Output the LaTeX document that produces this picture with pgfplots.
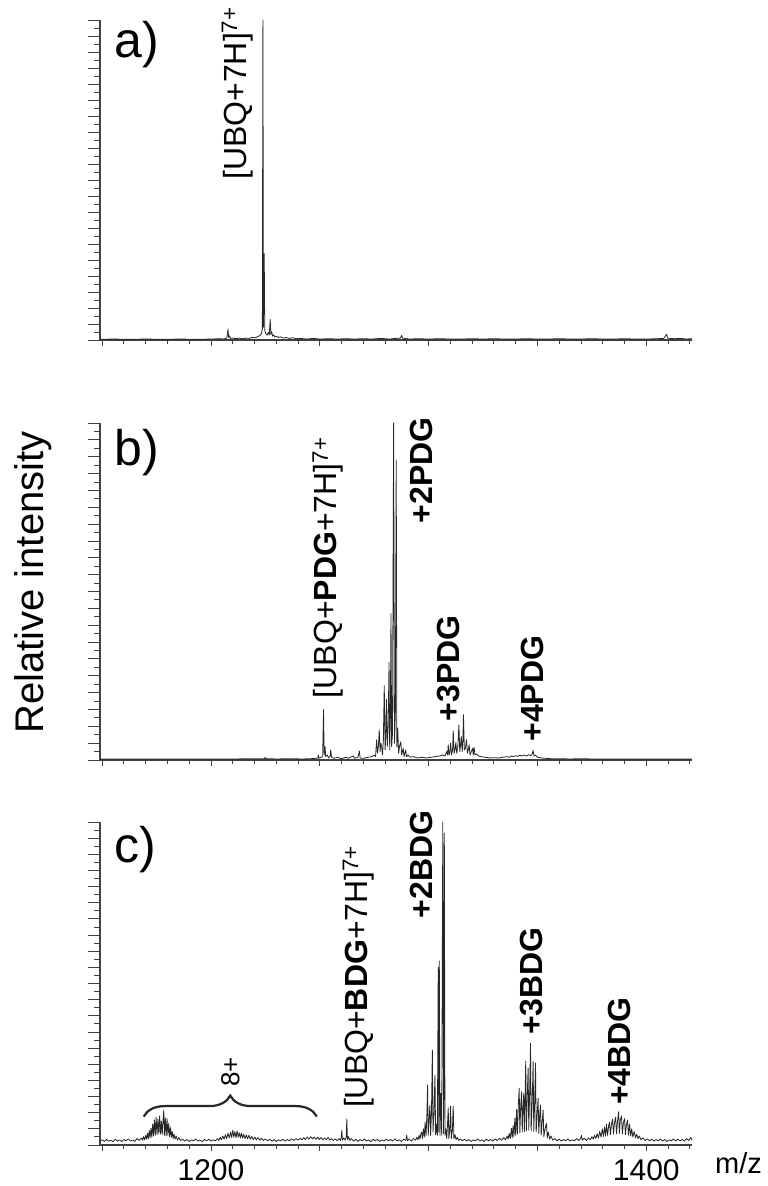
\documentclass[border=0pt]{standalone}
\usepackage{fontspec}
\setmainfont{Liberation Sans}
\usepackage{pgfplots}
\pgfplotsset{compat=1.18}
\usetikzlibrary{decorations.pathreplacing}

\definecolor{axgray}{gray}{0.25}
\pgfplotsset{
  panel/.style={scale only axis, width=592pt, xmin=1149, xmax=1421, ymin=0, ymax=100, clip=false},
  xpanel/.style={panel, axis x line*=bottom, hide y axis,
    xtick={1150,1200,...,1400}, minor xtick={1160,1170,...,1420},
    major tick length=6pt, minor tick length=3.5pt, tick align=outside,
    xticklabels={}, axis line style={line width=1.3pt, axgray},
    every tick/.style={line width=0.9pt, axgray},
    xticklabel style={font=\fontsize{30}{30}\selectfont, inner sep=0pt, yshift=-8pt}},
  ypanel/.style={panel, axis y line*=left, hide x axis,
    ytick={0,5,...,100}, minor ytick={2.5,7.5,...,97.5}, yticklabels={},
    major tick length=12pt, minor tick length=6.5pt, tick align=outside,
    axis line style={line width=1.3pt, axgray},
    every tick/.style={line width=0.9pt, axgray}},
  spec/.style={black!85, line width=0.8pt, no marks, line join=round},
}
\tikzset{
  lab/.style={rotate=90, anchor=base west, inner sep=0pt, font=\fontsize{32}{32}\selectfont},
  plab/.style={anchor=base west, inner sep=0pt, font=\fontsize{50}{50}\selectfont},
}

\begin{document}
\begin{tikzpicture}
\path[use as bounding box] (0,0) rectangle (768pt,-1186pt);

% ---------------- panel a ----------------
\begin{axis}[ypanel, height=320pt, at={(100pt,-340pt)}, anchor=south west]
\end{axis}
\begin{axis}[xpanel, height=320pt, at={(100pt,-340pt)}, anchor=south west]
\addplot[spec] coordinates {
(1149,0.2) (1155,0.3) (1162,0.2) (1170,0.3) (1178,0.2) (1186,0.3) (1194,0.2) (1200,0.3) (1204,0.4) (1206,0.3)
(1207.3,0.6) (1207.8,3.4) (1208.1,0.8) (1208.5,1.3) (1208.9,0.5) (1210,0.6) (1211.5,0.4) (1213,0.6) (1214.5,0.4)
(1216,0.6) (1217.5,0.5) (1219,0.8) (1220.5,0.7) (1221.5,1.1) (1222.5,1.4) (1223.2,2) (1223.6,3.5) (1223.85,100)
(1224.1,4) (1224.45,27) (1224.7,3) (1225.2,2) (1225.8,1.5) (1226.4,2.4) (1226.8,1.6) (1227.2,6.5) (1227.5,1.8)
(1227.9,2.6) (1228.3,1.2) (1228.8,1.6) (1229.4,0.9) (1230,1.2) (1231,0.8) (1232,1) (1233,0.6) (1234.5,0.8)
(1236,0.5) (1237.5,0.7) (1239,0.4) (1241,0.5) (1244,0.3) (1247,0.5) (1250,0.3) (1254,0.4) (1258,0.3) (1262,0.4)
(1266,0.3) (1270,0.4) (1274,0.3) (1278,0.5) (1282,0.3) (1285,0.5) (1287,0.6) (1287.6,1.4) (1288,0.6) (1289,0.5)
(1291,0.3) (1295,0.4) (1300,0.3) (1305,0.4) (1310,0.3) (1315,0.3) (1320,0.4) (1325,0.3) (1330,0.4) (1335,0.3)
(1340,0.3) (1345,0.4) (1350,0.3) (1355,0.3) (1360,0.4) (1365,0.3) (1370,0.3) (1375,0.4) (1380,0.3) (1385,0.3)
(1390,0.4) (1395,0.3) (1400,0.3) (1405,0.4) (1408,0.5) (1409.3,1.8) (1409.8,0.6) (1411,0.5) (1413,0.4) (1416,0.5)
(1418,0.3) (1421,0.4)
};
\node[plab] at (rel axis cs:0.024,0.883) {a)};
\node[lab] at (axis cs:1216.2,50) {[UBQ+7H]\textsuperscript{7+}};
\end{axis}

% ---------------- panel b ----------------
\begin{axis}[ypanel, height=337pt, at={(100pt,-760pt)}, anchor=south west]
\end{axis}
\begin{axis}[xpanel, height=337pt, at={(100pt,-760pt)}, anchor=south west]
\addplot[spec] coordinates {
(1149,0.3) (1160,0.3) (1170,0.3) (1180,0.3) (1190,0.3) (1200,0.3) (1210,0.3) (1220,0.4) (1224.5,0.4) (1224.9,0.8)
(1225.3,0.4) (1230,0.3) (1236,0.4) (1242,0.3) (1246,0.4) (1248,0.5) (1249.1,0.6) (1249.3,1.5) (1249.6,0.5) (1250.5,0.8)
(1251.3,1) (1251.7,15) (1252.0,1.5) (1252.4,4) (1252.7,1) (1253.5,1.5) (1254,0.6) (1254.8,1.2) (1255,3) (1255.4,0.8)
(1256.5,0.5) (1258,0.8) (1260,0.4) (1262,0.8) (1263,0.5) (1265.3,1.2) (1266,0.5) (1267.5,0.8) (1268.2,2.7) (1268.5,0.6)
(1270,0.5) (1272,0.8) (1274,1) (1275,1.5) (1275.6,1) (1276.1,6) (1276.5,2) (1276.9,4) (1277.3,9) (1277.7,2.5)
(1278.0,5) (1278.4,4) (1278.8,1.5) (1279.2,6) (1279.6,22) (1280,3) (1280.3,7) (1280.6,18) (1281,4) (1281.4,10)
(1281.8,29) (1282.1,3) (1282.4,12) (1282.7,43.5) (1283,4) (1283.4,8) (1283.9,100) (1284.3,5) (1284.7,14) (1285.1,89)
(1285.4,4) (1285.8,9.5) (1286.2,2) (1286.6,4) (1287.2,5.4) (1287.6,1.5) (1288.3,3.5) (1288.7,1) (1289.4,3) (1289.8,1)
(1290.5,1.5) (1291.5,0.8) (1293,1) (1295,0.6) (1297,0.8) (1299,0.6) (1301,0.8) (1303,1) (1305,1.2) (1306.5,1.5)
(1307.5,1.2) (1308.3,2.5) (1308.7,1.5) (1309,4.5) (1309.4,1.5) (1309.8,2.5) (1310.1,5) (1310.5,1.5) (1311,3) (1311.3,8.7)
(1311.7,2) (1312.1,3) (1312.5,5.2) (1312.9,2) (1313.4,4) (1313.9,10.4) (1314.3,2.5) (1314.6,4) (1315,7) (1315.4,2.5)
(1315.7,5) (1316,13.4) (1316.4,3) (1316.9,3.5) (1317.4,6) (1317.8,2) (1318.2,3) (1318.6,4.5) (1319,1.5) (1319.6,2.5)
(1320.2,3.5) (1320.5,1.5) (1320.9,3.7) (1321.3,1.5) (1322,1.8) (1323,1.2) (1324,1) (1326,0.8) (1328,0.6) (1330,0.7)
(1332,0.6) (1334,0.8) (1336,1) (1337,0.8) (1338,1.2) (1339,1) (1340,1.3) (1341,1.1) (1342,1.4) (1343,1.2) (1344,1.5)
(1345,1.2) (1346,1.6) (1347,1.3) (1347.6,1.8) (1348,2.8) (1348.4,1.2) (1349,1.5) (1350,0.8) (1352,0.6) (1354,0.5)
(1356,0.4) (1360,0.4) (1365,0.3) (1370,0.4) (1375,0.3) (1380,0.3) (1390,0.3) (1400,0.3) (1410,0.3) (1421,0.3)
};
\node[plab] at (rel axis cs:0.024,0.875) {b)};
\node[lab] at (axis cs:1257.8,18.3) {[UBQ+\textbf{PDG}+7H]\textsuperscript{7+}};
\node[lab] at (axis cs:1301.8,70.2) {\textbf{+2PDG}};
\node[lab] at (axis cs:1314,11.4) {\textbf{+3PDG}};
\node[lab] at (axis cs:1352.9,5.4) {\textbf{+4PDG}};
\end{axis}

% ---------------- panel c ----------------
\begin{axis}[ypanel, height=323pt, at={(100pt,-1145pt)}, anchor=south west]
\end{axis}
\begin{axis}[xpanel, height=323pt, at={(100pt,-1145pt)}, anchor=south west, xticklabels={,1200,,,,1400}]
\addplot[spec] coordinates {
(1149,1.3)(1150,1.6)(1151,1.1)(1152,1.7)(1153,1.2)(1154,1.5)(1155,1.0)(1156,1.8)(1157,1.2)(1158,1.6)(1159,1.1)(1160,1.7)
(1161,1.3)(1162,1.9)(1163,1.2)(1164,1.6)(1165,1.1)(1166,2.0)(1167,1.4)(1168,2.2)
(1168.6,1.5)(1169,2.6)(1169.5,1.6)(1170,3.0)(1170.4,1.8)(1170.8,3.6)(1171.2,2.0)(1171.6,4.5)(1172,2.2)(1172.4,5.2)
(1172.8,2.4)(1173.2,6.5)(1173.6,2.8)(1174,7.8)(1174.4,3.0)(1174.8,8.6)(1175.2,3.2)(1175.6,8.0)(1176,3.5)(1176.4,9.0)
(1176.8,3.4)(1177.2,7.4)(1177.6,3.2)(1178,8.2)(1178.3,10.8)(1178.6,3.0)(1179,8.4)(1179.4,2.8)(1179.8,8.2)(1180.2,3.0)
(1180.6,6.8)(1181,2.6)(1181.4,5.4)(1181.8,2.4)(1182.2,4.2)(1182.6,2.0)(1183,3.4)(1183.5,1.8)(1184,2.8)(1184.6,1.5)
(1185.2,2.3)(1186,1.4)
(1187,1.8)(1188,1.2)(1189,1.7)(1190,1.1)(1191,1.6)(1192,1.3)(1193,1.9)(1194,1.2)(1195,1.6)(1196,1.0)(1197,1.7)(1198,1.3)
(1199,1.8)(1200,1.2)(1201,1.6)(1202,1.3)(1203,2.0)
(1203.6,1.4)(1204.2,2.4)(1204.8,1.6)(1205.4,2.8)(1206,1.8)(1206.6,3.2)(1207.2,2.0)(1207.8,3.6)(1208.4,2.2)(1209,4.0)
(1209.5,2.3)(1210,4.6)(1210.5,2.4)(1211,4.2)(1211.5,2.2)(1212,4.4)(1212.5,2.4)(1213,3.8)(1213.5,2.2)(1214,3.7)
(1214.5,2.1)(1215,3.3)(1215.6,2.0)(1216.2,3.1)(1216.8,1.9)(1217.4,3.0)(1218,1.8)(1218.7,2.7)(1219.4,1.7)(1220.1,2.5)
(1220.8,1.6)(1221.6,2.3)(1222.4,1.5)(1223.2,2.1)(1224,1.4)(1225,1.9)(1226,1.3)
(1227,1.8)(1228,1.2)(1229,1.7)(1230,1.1)(1231,1.6)(1232,1.3)(1233,1.8)(1234,1.2)(1235,1.7)(1236,1.3)(1237,1.9)(1238,1.4)
(1239,2.0)(1240,1.5)
(1241,2.1)(1241.8,1.6)(1242.6,2.3)(1243.4,1.7)(1244.2,2.5)(1245,1.8)(1245.8,2.6)(1246.6,1.9)(1247.4,2.5)(1248.2,1.8)
(1249,2.4)(1249.8,1.7)(1250.6,2.3)(1251.4,1.6)(1252.2,2.2)(1253,1.6)(1253.8,2.4)(1254.6,1.5)(1255.4,2.0)(1256.2,1.4)
(1257,1.9)(1258,1.3)
(1258.8,2.0)(1259.5,1.4)(1259.9,2.6)(1260.1,4.6)(1260.4,1.5)(1261,2.2)(1261.6,1.5)(1262.1,2.4)(1262.4,8.0)(1262.7,1.6)
(1263.2,2.6)(1263.8,1.4)(1264.5,2.0)
(1265.5,1.2)(1266.5,1.8)(1267.5,1.1)(1268.5,1.7)(1269.5,1.3)(1270.5,1.9)(1271.5,1.2)(1272.5,1.6)(1273.5,1.0)(1274.5,1.8)
(1275.5,1.3)(1276.5,1.7)(1277.5,1.1)(1278.5,1.6)(1279.5,1.2)(1280.5,1.8)(1281.5,1.3)(1282.5,1.7)(1283.5,1.2)(1284.5,1.9)
(1285.5,1.3)(1286.5,1.6)(1287.5,1.1)(1288.5,1.8)(1289.5,1.4)(1289.9,3.0)(1290.3,1.3)(1291,1.9)(1292,1.2)(1293,2.0)(1294,1.5)
(1294.6,2.4)(1295.1,1.6)(1295.6,3.0)(1296,1.8)(1296.4,3.4)(1296.8,4.0)(1297.1,2.0)(1297.6,5.0)(1298,2.4)(1298.4,7.0)
(1298.8,2.8)(1299.2,9.5)(1299.5,18.6)(1299.8,3.0)(1300.2,8.0)(1300.6,12.4)(1300.9,3.0)(1301.3,10.0)(1301.7,29.4)(1302,4.0)
(1302.4,9.0)(1302.9,21.7)(1303.2,3.2)(1303.6,6.5)(1304,3.0)(1304.4,55.0)(1304.65,4.0)(1304.9,57.0)(1305.2,3.0)(1305.6,16.0)
(1306,3.0)(1306.5,100)(1306.85,3.5)(1307.2,96.6)(1307.5,3.0)(1307.9,5.0)(1308.3,2.0)(1308.6,5.5)(1309,11.5)(1309.3,2.0)
(1309.7,4.5)(1310.1,12.0)(1310.4,2.0)(1310.9,4.5)(1311.3,12.0)(1311.6,2.0)(1312.1,3.2)(1312.6,1.6)(1313.2,2.4)(1313.8,1.4)
(1314.5,1.9)(1315.5,1.3)(1316.5,1.8)(1317.5,1.2)(1318.5,1.7)(1319.5,1.1)(1320.5,1.6)(1321.5,1.3)(1322.5,1.9)(1323.5,1.2)
(1324.5,1.6)(1325.5,1.1)(1326.5,1.8)(1327.5,1.3)(1328.5,1.7)(1329.5,1.2)(1330.5,1.9)(1331.5,1.4)(1332.5,2.1)(1333.5,1.5)
(1334.5,2.3)(1335.3,1.6)
(1336,2.8)(1336.5,1.8)(1337,3.6)(1337.5,2.0)(1338,5.2)(1338.4,2.2)(1338.8,6.0)(1339.2,2.6)(1339.6,8.3)(1340,3.0)
(1340.4,11.0)(1340.8,3.4)(1341.2,12.5)(1341.6,17.6)(1341.9,3.8)(1342.3,12.0)(1342.7,16.5)(1343,4.0)(1343.4,12.0)(1343.7,16.0)
(1344,4.2)(1344.3,14.0)(1344.6,26.0)(1344.9,4.5)(1345.3,15.0)(1345.7,23.8)(1346,4.6)(1346.4,16.0)(1346.8,31.5)(1347.1,4.5)
(1347.6,14.0)(1348,25.8)(1348.3,4.2)(1348.7,13.0)(1349.1,25.4)(1349.4,4.0)(1349.9,10.0)(1350.3,14.5)(1350.6,3.5)(1351,9.0)
(1351.4,12.4)(1351.7,3.0)(1352.2,7.5)(1352.6,10.8)(1352.9,2.6)(1353.5,5.0)(1354.1,6.7)(1354.5,2.2)(1355,4.0)(1355.6,1.8)
(1356.2,2.8)(1357,1.5)
(1358,2.0)(1359,1.3)(1360,1.8)(1361,1.2)(1362,1.7)(1363,1.3)(1364,1.9)(1365,1.2)(1366,1.6)(1367,1.3)(1368,2.0)(1369,1.4)
(1369.8,2.0)(1370.2,3.0)(1370.6,1.5)(1371.5,2.1)(1372.5,1.4)(1373.5,2.2)(1374.3,1.6)
(1375,2.6)(1375.6,1.8)(1376.2,3.0)(1376.8,2.0)(1377.4,3.5)(1378,2.2)(1378.6,4.2)(1379.2,2.4)(1379.8,5.0)(1380.3,2.6)
(1380.8,5.6)(1381.3,2.8)(1381.7,6.5)(1382.2,3.0)(1382.7,6.0)(1383.1,7.0)(1383.5,3.2)(1384,6.5)(1384.5,8.0)(1384.9,3.4)
(1385.4,7.0)(1385.9,8.6)(1386.3,3.5)(1386.8,7.5)(1387.3,10.3)(1387.6,3.6)(1388.1,7.8)(1388.6,9.0)(1389,3.4)(1389.5,7.0)
(1390,8.2)(1390.4,3.2)(1390.9,6.5)(1391.4,7.6)(1391.8,3.0)(1392.3,6.5)(1392.8,2.8)(1393.3,5.0)(1393.8,2.5)(1394.4,4.2)
(1395,2.2)(1395.6,3.4)(1396.2,2.0)(1396.8,2.8)(1397.5,1.7)
(1398.5,2.2)(1399.5,1.4)(1400.5,1.9)(1401.5,1.3)(1402.5,1.8)(1403.5,1.2)(1404.5,1.7)(1405.5,1.3)(1406.5,1.9)(1407.5,1.2)
(1408.5,1.7)(1409.5,1.1)(1410.5,1.6)(1411.5,1.3)(1412.5,1.9)(1413.5,1.2)(1414.5,1.8)(1415.5,1.3)(1416.5,1.7)(1417.5,1.2)
(1418.5,2.0)(1419.5,1.4)(1420.5,2.3)(1421,1.5)
};
\node[plab] at (rel axis cs:0.024,0.876) {c)};
\node[lab] at (axis cs:1271.8,11.4) {[UBQ+\textbf{BDG}+7H]\textsuperscript{7+}};
\node[lab] at (axis cs:1301.7,70.2) {\textbf{+2BDG}};
\node[lab] at (axis cs:1352.1,34) {\textbf{+3BDG}};
\node[lab] at (axis cs:1392.7,12.4) {\textbf{+4BDG}};
\draw[decorate, decoration={brace, amplitude=21pt}, line width=2.2pt, black!85]
  (axis cs:1169.1,8.8) -- (axis cs:1248.6,8.8);
\node[rotate=90, anchor=base west, inner sep=0pt, font=\fontsize{26}{26}\selectfont]
  at (axis cs:1213,18) {8+};
\end{axis}

\node[rotate=90, anchor=base, inner sep=0pt, font=\fontsize{40}{40}\selectfont] at (43pt,-582.5pt) {Relative intensity};
\node[anchor=base west, inner sep=0pt, font=\fontsize{29}{29}\selectfont] at (715pt,-1173pt) {m/z};
\end{tikzpicture}
\end{document}
